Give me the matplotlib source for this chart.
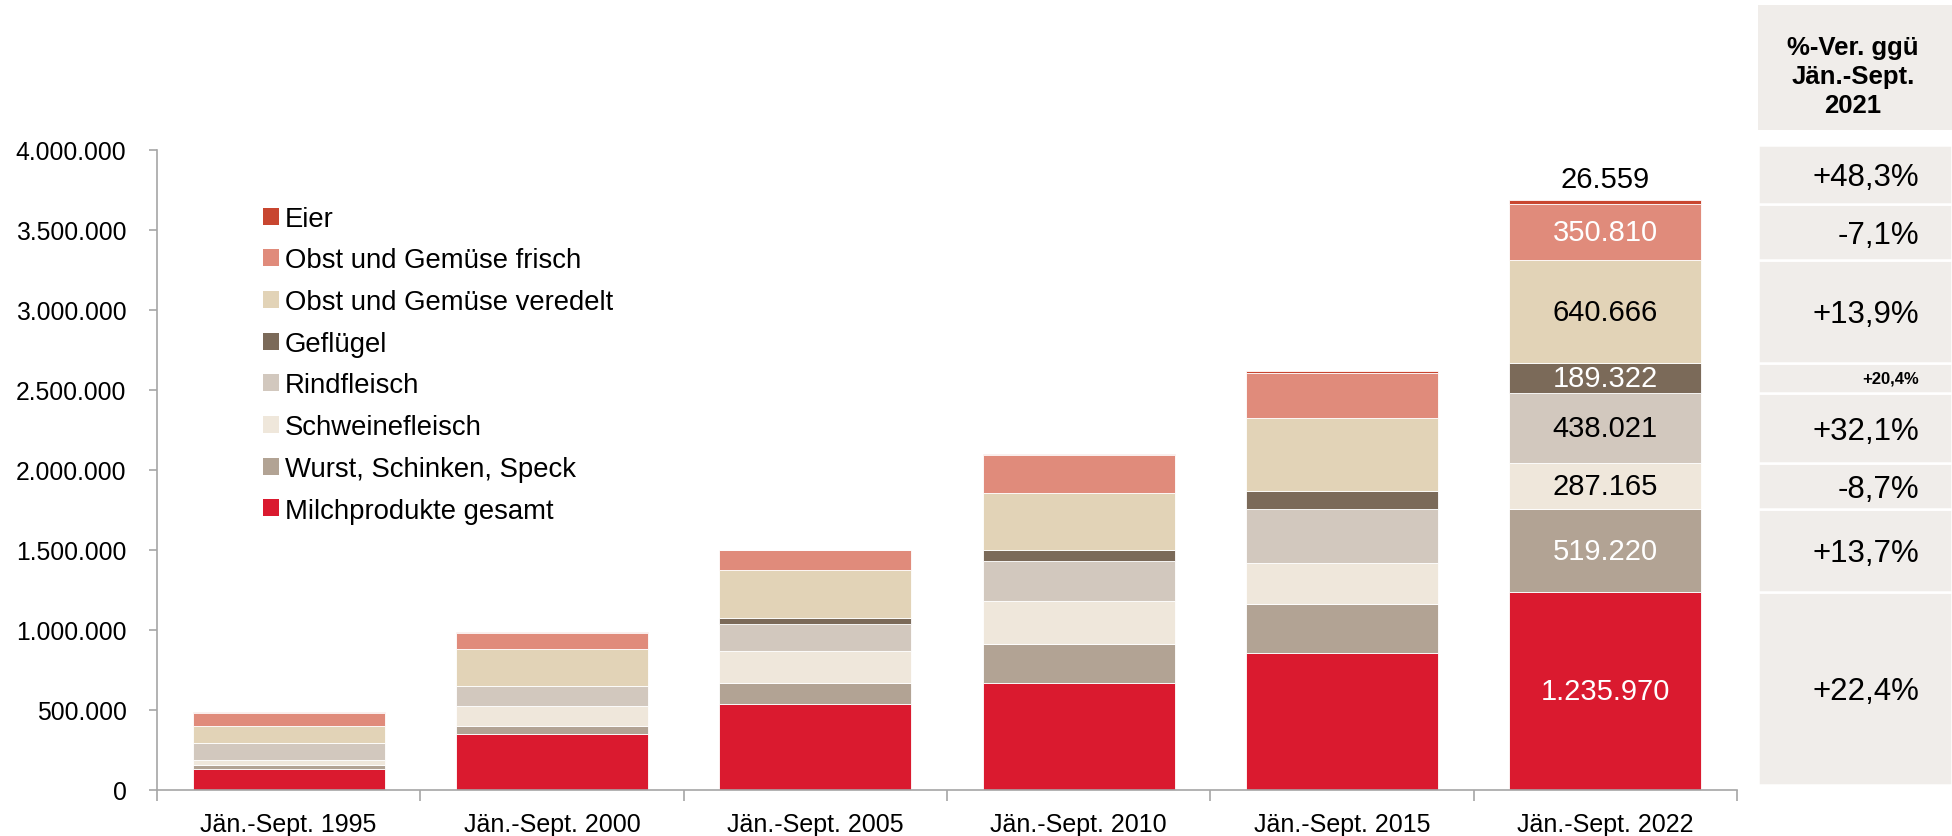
import matplotlib
matplotlib.use("Agg")
import matplotlib.pyplot as plt
from matplotlib.patches import Rectangle, Patch
from matplotlib.ticker import FuncFormatter, FixedLocator, NullFormatter
import numpy as np

plt.rcParams['font.family'] = ['Liberation Sans', 'DejaVu Sans']

# -- data --
years = ["Jän.-Sept. 1995", "Jän.-Sept. 2000", "Jän.-Sept. 2005",
         "Jän.-Sept. 2010", "Jän.-Sept. 2015", "Jän.-Sept. 2022"]

# stacked from bottom to top
series = ["Milchprodukte gesamt", "Wurst, Schinken, Speck", "Schweinefleisch",
          "Rindfleisch", "Geflügel", "Obst und Gemüse veredelt",
          "Obst und Gemüse frisch", "Eier"]

milch = [133000, 350000, 537000, 671000, 858000, 1235970]
wurst = [25000, 52000, 130000, 240000, 304000, 519220]
schwein = [31000, 123000, 202000, 270000, 258000, 287165]
rind = [103000, 123000, 171000, 250000, 334000, 438021]
gefluegel = [3000, 5000, 33000, 67000, 115000, 189322]
veredelt = [107000, 230000, 300000, 358000, 454000, 640666]
frisch = [81000, 100000, 124000, 236000, 285000, 350810]
eier = [3000, 4000, 5000, 8000, 11000, 26559]

values = [milch, wurst, schwein, rind, gefluegel, veredelt, frisch, eier]

colors = ["#DA1A2F", "#B2A394", "#EFE7DB", "#D2C8BE", "#7B6A59",
          "#E2D3B7", "#E08B7B", "#C84630"]

# label colour for the 2022 values (last bar)
label_colors = ["white", "white", "black", "black", "white", "black", "white", "black"]

change = ["+22,4%", "+13,7%", "-8,7%", "+32,1%", "+20,4%", "+13,9%", "-7,1%", "+48,3%"]

header = "%-Ver. ggü\nJän.-Sept.\n2021"


def de(v):
    return f"{int(round(v)):,}".replace(",", ".")


fig = plt.figure(figsize=(19.52, 8.37), dpi=100)
ax = fig.add_axes([157 / 1952, 1 - 791 / 837, 1580 / 1952, 640 / 837])

x = np.arange(len(years))
bottom = np.zeros(len(years))
for name, vals, col in zip(series, values, colors):
    ax.bar(x, vals, 0.73, bottom=bottom, color=col, edgecolor="white",
           linewidth=0.6, label=name)
    bottom += np.array(vals)

# value labels on last bar
last = len(years) - 1
cum = 0
for i, (vals, lc) in enumerate(zip(values, label_colors)):
    v = vals[last]
    if series[i] == "Eier":
        ax.annotate(de(v), (x[last], cum + v), xytext=(0, 5), textcoords="offset points",
                    ha="center", va="bottom", fontsize=21, color="black")
    else:
        ax.text(x[last], cum + v / 2, de(v), ha="center", va="center",
                fontsize=21, color=lc)
    cum += v

ax.set_xlim(-0.5, len(years) - 0.5)
ax.set_ylim(0, 4000000)
ax.set_yticks(np.arange(0, 4000001, 500000))
ax.yaxis.set_major_formatter(FuncFormatter(lambda v, p: de(v)))
ax.set_xticks(x)
ax.set_xticklabels(years, fontsize=18)
ax.tick_params(axis="x", length=0, pad=16)
ax.xaxis.set_minor_locator(FixedLocator(np.arange(-0.5, len(years), 1.0)))
ax.xaxis.set_minor_formatter(NullFormatter())
ax.tick_params(axis="x", which="minor", length=8, color="#A6A6A6", width=1.2)
ax.tick_params(axis="y", labelsize=17.8, length=6, color="#A6A6A6", width=1.2, pad=16)
for s in ["top", "right"]:
    ax.spines[s].set_visible(False)
for s in ["left", "bottom"]:
    ax.spines[s].set_color("#A6A6A6")
    ax.spines[s].set_linewidth(1.2)

handles = [Patch(facecolor=c, edgecolor="none") for c in colors][::-1]
ax.legend(handles, series[::-1], loc="upper left", bbox_to_anchor=(0.06, 0.93),
          frameon=False, fontsize=19.8, handlelength=0.58, handleheight=0.58,
          handletextpad=0.22, labelspacing=0.57, borderaxespad=0)

# -- right panel --
side = fig.add_axes([1758 / 1952, 1 - 791 / 837, 194 / 1952, 640 / 837], sharey=ax)
side.set_xlim(0, 1)
side.axis("off")
edges = [30000] + list(np.cumsum([v[last] for v in values])[:-1]) + [4030000]
for i in range(len(change)):
    y0, y1 = edges[i], edges[i + 1]
    side.add_patch(Rectangle((0.0, y0), 1.0, y1 - y0, facecolor="#F0EDEA",
                             edgecolor="white", linewidth=1.8, clip_on=False))
    if series[i] == "Geflügel":
        side.text(0.83, (y0 + y1) / 2, change[i], ha="right", va="center",
                  fontsize=12, fontweight="bold")
    else:
        side.text(0.83, (y0 + y1) / 2 - 15000, change[i], ha="right", va="center",
                  fontsize=22.5)

fig.patches.append(Rectangle((1758 / 1952, 1 - 131 / 837), 194 / 1952, 125 / 837,
                             transform=fig.transFigure, facecolor="#F0EDEA",
                             edgecolor="none"))
fig.text(1853 / 1952, 1 - 77 / 837, header, ha="center", va="center",
         multialignment="center", fontsize=18.5, fontweight="bold", linespacing=1.28)

fig.savefig("out.png", dpi=100)
